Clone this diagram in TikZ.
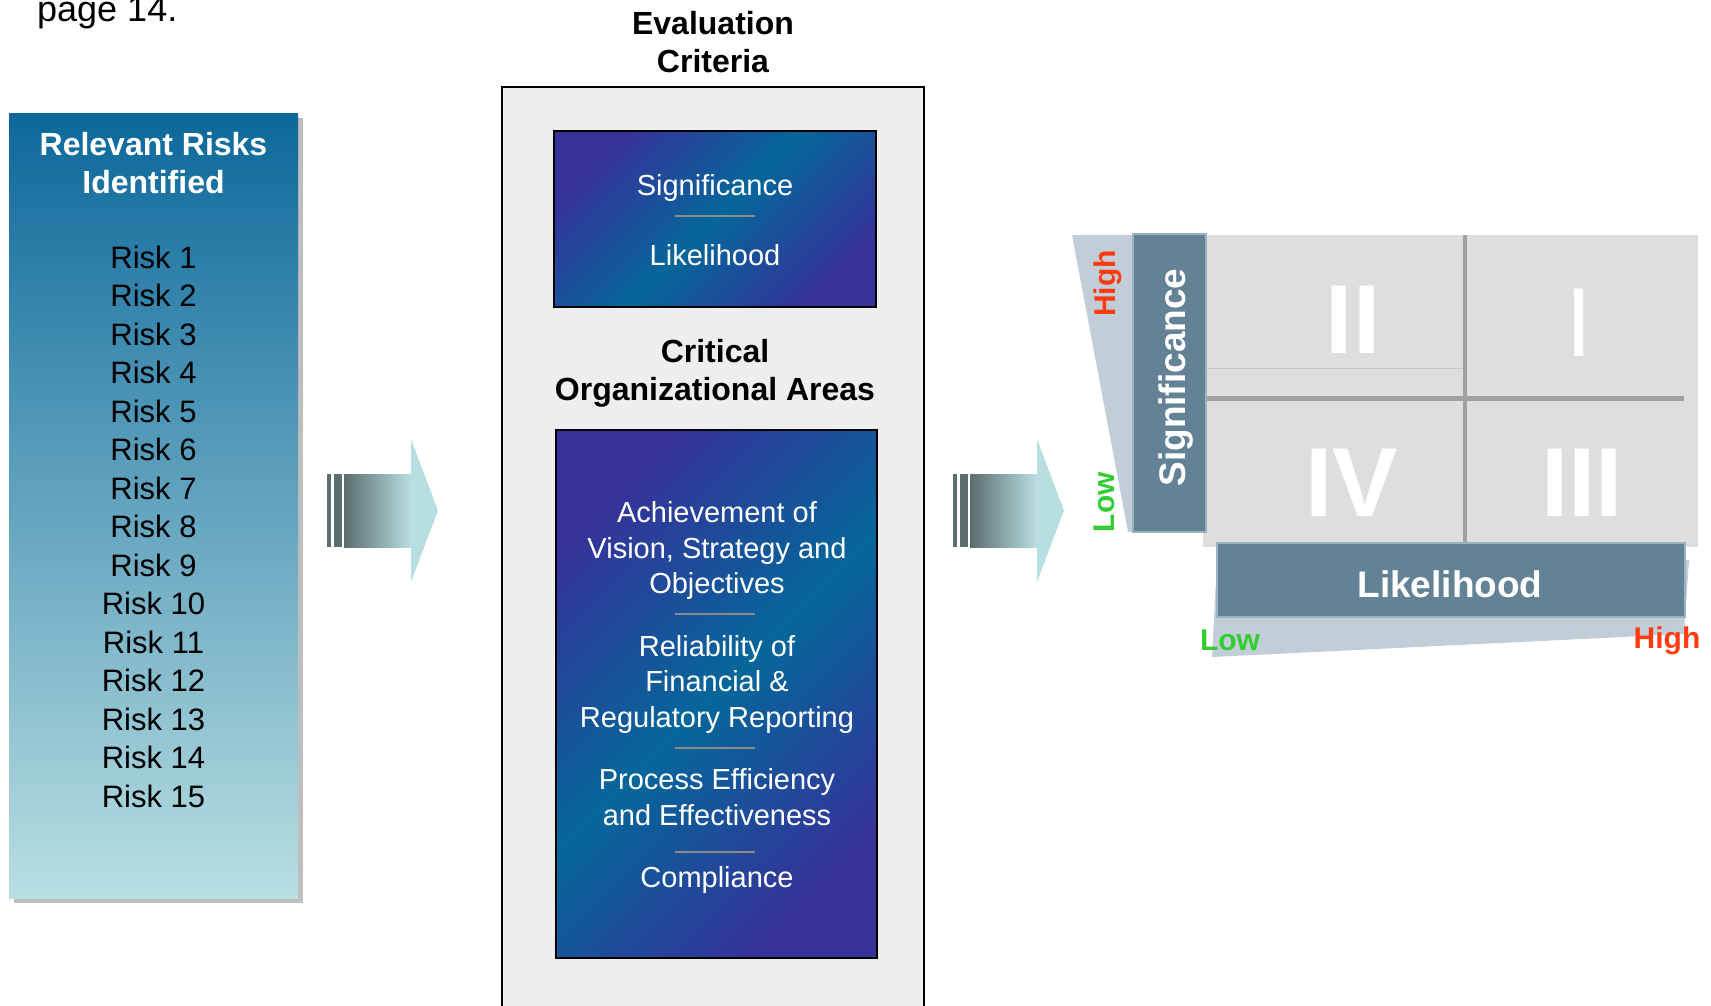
\documentclass[tikz,border=0pt]{standalone}
\usepackage{fontspec}
\setmainfont{Liberation Sans}
\usetikzlibrary{calc,positioning,shadows}
\definecolor{ink}{HTML}{000000}
\definecolor{riskTop}{HTML}{0C689B}
\definecolor{riskBottom}{HTML}{B9DFE2}
\definecolor{shadowGray}{HTML}{BEBEBE}
\definecolor{panelGray}{HTML}{EEEEEE}
\definecolor{cardPurple}{HTML}{36329A}
\definecolor{cardTeal}{HTML}{05679A}
\definecolor{dividerGray}{HTML}{8A8A8A}
\definecolor{arrowDark}{HTML}{5B6E6E}
\definecolor{arrowLight}{HTML}{B9DEE1}
\definecolor{mapGray}{HTML}{DEDEDE}
\definecolor{mapLine}{HTML}{A0A0A0}
\definecolor{mapFaint}{HTML}{C8C8C8}
\definecolor{axisBlue}{HTML}{638295}
\definecolor{axisEdge}{HTML}{9AB2C2}
\definecolor{wedgeGray}{HTML}{C1CED8}
\definecolor{highRed}{HTML}{FF3C0F}
\definecolor{lowGreen}{HTML}{33CC33}
\tikzset{
  risk panel/.style={
    rectangle,
    top color=riskTop,
    bottom color=riskBottom,
    inner sep=0pt,
    drop shadow={shadow xshift=5pt,shadow yshift=-5pt,fill=shadowGray,opacity=1}
  },
  panel title/.style={
    font=\fontsize{32}{38}\selectfont\bfseries,
    align=center,
    inner sep=0pt,
    text=ink
  },
  risk list/.style={
    font=\fontsize{31}{38.5}\selectfont,
    align=center,
    inner sep=0pt,
    text=ink
  },
  criteria panel/.style={
    draw=ink,
    fill=panelGray,
    line width=1.5pt,
    inner sep=0pt
  },
  criteria card/.style={
    draw=ink,
    line width=2pt,
    top color=cardPurple,
    bottom color=cardPurple,
    middle color=cardTeal,
    shading angle=45,
    inner sep=0pt
  },
  card text/.style={
    font=\fontsize{29}{35.5}\selectfont,
    text=white,
    align=center,
    inner sep=0pt
  },
  divider/.style={
    draw=dividerGray,
    line width=2pt
  },
  axis bar/.style={
    draw=axisEdge,
    fill=axisBlue,
    line width=1.5pt,
    inner sep=0pt
  },
  axis name/.style={
    text=white,
    font=\fontsize{37}{37}\selectfont\bfseries,
    inner sep=0pt
  },
  quadrant/.style={
    text=white,
    font=\fontsize{98}{98}\selectfont\bfseries,
    inner sep=0pt,
    anchor=base
  },
  level/.style={
    font=\fontsize{30}{30}\selectfont\bfseries,
    inner sep=0pt
  },
  flow arrow/.pic={
    \fill[arrowDark] (0,-36.5) rectangle (4,36.5);
    \fill[arrowDark] (7,-36.5) rectangle (15,36.5);
    \shade[left color=arrowDark,right color=arrowLight] (17,-36.5) rectangle (84,36.5);
    \fill[arrowLight] (84,-71.5) -- (111,0) -- (84,71.5) -- cycle;
  }
}

\begin{document}
\begin{tikzpicture}[x=1pt,y=-1pt]
  \useasboundingbox (0,0) rectangle (1711,1005);

  \node[font=\fontsize{36}{36}\selectfont,anchor=base west,inner sep=0pt] (pageref) at (37,21) {page 14.};

  % risks column (multi-line nodes sit on their last baseline)
  \node[risk panel,minimum width=289,minimum height=785] (risks) at (153.5,505.5) {};
  \node[panel title,text=white,anchor=base] (riskTitle) at (153.5,193) {Relevant Risks\\Identified};
  \node[risk list,anchor=base] (riskList) at (153.5,807) {
    Risk 1\\Risk 2\\Risk 3\\Risk 4\\Risk 5\\Risk 6\\Risk 7\\Risk 8\\
    Risk 9\\Risk 10\\Risk 11\\Risk 12\\Risk 13\\Risk 14\\Risk 15
  };

  \pic (toCriteria) at (327,510.5) {flow arrow};

  % evaluation criteria column
  \node[criteria panel,minimum width=422,minimum height=930,anchor=north] (criteria) at (713,86) {};
  \node[panel title,anchor=base] (criteriaTitle) at (713,72) {Evaluation\\Criteria};

  \node[criteria card,minimum width=322,minimum height=176] (scales) at (715,219) {};
  \node[card text,anchor=base] (sigText) at (715,195) {Significance};
  \node[card text,anchor=base] (likText) at (715,265) {Likelihood};
  \draw[divider] (675,216) -- (755,216);

  \node[panel title,anchor=base] (areasTitle) at (715,400) {Critical\\Organizational Areas};
  \node[criteria card,minimum width=321,minimum height=528] (areas) at (716.5,694) {};
  \node[card text,anchor=base] (vision) at (717,593.5) {Achievement of\\Vision, Strategy and\\Objectives};
  \node[card text,anchor=base] (reporting) at (717,727) {Reliability of\\Financial \&\\Regulatory Reporting};
  \node[card text,anchor=base] (efficiency) at (717,825) {Process Efficiency\\and Effectiveness};
  \node[card text,anchor=base] (compliance) at (717,887.5) {Compliance};
  \draw[divider] (675,614) -- (755,614);
  \draw[divider] (675,748) -- (755,748);
  \draw[divider] (675,852) -- (755,852);

  \pic (toMap) at (953,510.5) {flow arrow};

  % significance / likelihood map
  \fill[wedgeGray] (1072,235) -- (1133,235) -- (1133,532) -- (1128,532) -- cycle;
  \fill[wedgeGray] (1217,560) -- (1689,560) -- (1684,634) -- (1212,657) -- cycle;
  \node[fill=mapGray,inner sep=0pt,minimum width=495,minimum height=312] (riskmap) at (1450.5,391) {};
  \draw[mapFaint,line width=1pt] (1206,368) -- (1465,368);
  \draw[mapLine,line width=5pt] (1206,398) -- (1684,398);
  \draw[mapLine,line width=4pt] (1465,235) -- (1465,547);

  \node[quadrant] (q2) at (1353,353) {II};
  \node[quadrant,font=\fontsize{98}{98}\selectfont] (q1) at (1579,356) {I};
  \node[quadrant] (q4) at (1352,516) {IV};
  \node[quadrant] (q3) at (1582,516) {III};

  \node[axis bar,minimum width=73,minimum height=298] (sigbar) at (1169.5,383) {};
  \node[axis name,rotate=90] (sigName) at (1176,377.5) {Significance};
  \node[axis bar,minimum width=468,minimum height=74] (likbar) at (1451,580) {};
  \node[axis name,anchor=base] (likName) at (1450,597) {Likelihood};

  \node[level,text=highRed,rotate=90] (sigHigh) at (1108,283.5) {High};
  \node[level,text=lowGreen,rotate=90] (sigLow) at (1104,502) {Low};
  \node[level,text=lowGreen,anchor=base] (likLow) at (1230,650) {Low};
  \node[level,text=highRed,anchor=base] (likHigh) at (1667,648) {High};
\end{tikzpicture}
\end{document}
